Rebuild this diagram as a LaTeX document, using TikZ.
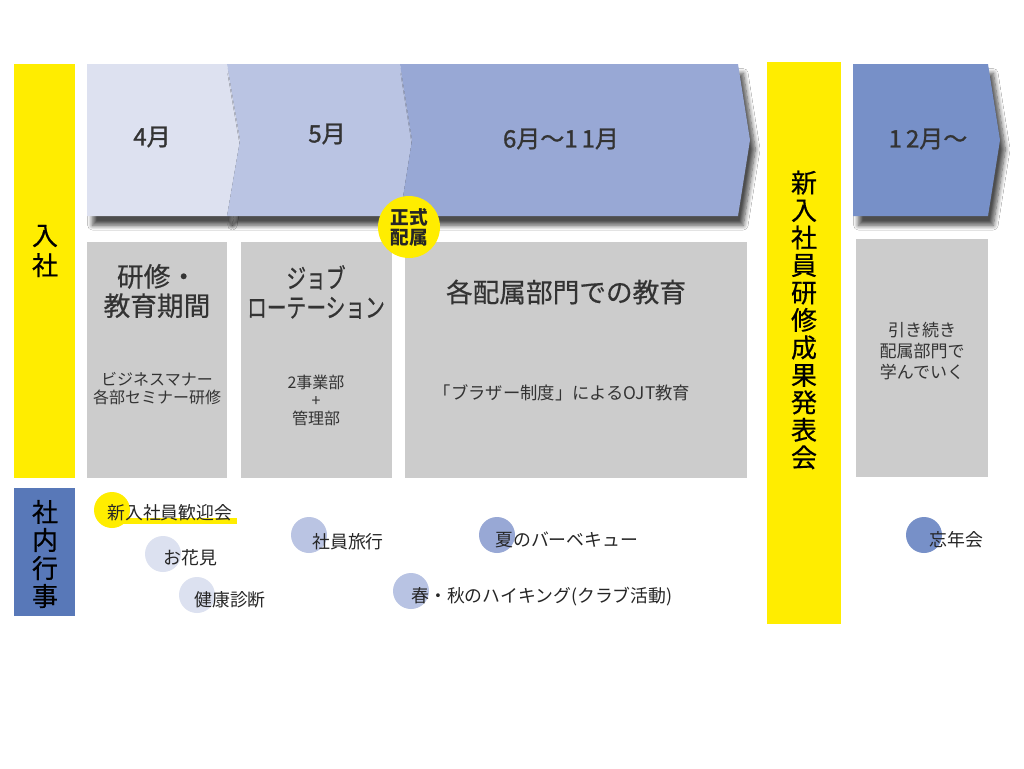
\documentclass[tikz,border=0pt]{standalone}
\usepackage{fontspec}
\usepackage{graphicx}
\setmainfont{Noto Sans CJK JP}
\newfontfamily\jpmid[FakeBold=1.2]{Noto Sans CJK JP}
\newfontfamily\jplite[FakeBold=0.5]{Noto Sans CJK JP}
\usetikzlibrary{shadows.blur}
\definecolor{ylw}{RGB}{255,237,0}
\definecolor{cA}{RGB}{221,225,240}
\definecolor{cB}{RGB}{186,196,227}
\definecolor{cC}{RGB}{152,168,213}
\definecolor{cD}{RGB}{119,144,200}
\definecolor{gbox}{RGB}{204,204,204}
\definecolor{bluebox}{RGB}{88,120,184}
\definecolor{txt}{RGB}{51,51,51}
\definecolor{evA}{RGB}{220,225,240}
\definecolor{evB}{RGB}{186,196,227}
\definecolor{evC}{RGB}{184,195,227}
\tikzset{
  chev/.style={blur shadow={shadow xshift=4pt, shadow yshift=-7pt, shadow blur radius=3.5pt, shadow blur steps=8, shadow opacity=70}},
  mon/.style={font=\jpmid\fontsize{18}{20}\selectfont, text=txt},
  ttl/.style={font=\jplite\fontsize{20}{22}\selectfont, text=txt, align=center},
  subtxt/.style={font=\fontsize{12}{13.5}\selectfont, text=txt, align=center},
  vert/.style={font=\jplite\fontsize{19.5}{21}\selectfont, text=black, align=center},
  evdot/.style={circle, minimum size=27pt, inner sep=0pt},
  evtxt/.style={font=\fontsize{13.4}{15}\selectfont, text=black!85, anchor=west, inner sep=0pt},
}
\begin{document}
\begin{tikzpicture}[x=0.75pt,y=-0.75pt]
\useasboundingbox (0,0) rectangle (1024,768);
\fill[white] (0,0) rectangle (1024,768);
% side bars
\fill[ylw] (14,64) rectangle (75,478);
\fill[bluebox] (14,488) rectangle (75,616);
\fill[ylw] (767,62) rectangle (841,624);
% chevrons
\path[fill=cA, chev] (87,64) -- (227,64) -- (240,140) -- (227,216) -- (87,216) -- cycle;
\path[fill=cB, chev] (227,64) -- (400,64) -- (412,140) -- (400,216) -- (227,216) -- (240,140) -- cycle;
\path[fill=cC, chev] (400,64) -- (738,64) -- (750,140) -- (738,216) -- (400,216) -- (412,140) -- cycle;
\path[fill=cD, chev] (853,64) -- (988,64) -- (1000,140) -- (988,216) -- (853,216) -- cycle;
\node[mon] (m4) at (152,137) {4月};
\node[mon] (m5) at (327,134) {5月};
\node[mon] (m6) at (561,139) {6月〜1\,1月};
\node[mon] (m12) at (928,139) {1\,2月〜};
% gray boxes
\fill[gbox] (87,242) rectangle (227,478);
\fill[gbox] (241,242) rectangle (392,478);
\fill[gbox] (405,242) rectangle (747,478);
\fill[gbox] (856,239) rectangle (988,477);
\node[ttl] (t1) at (157,291) {研修・\\教育期間};
\node[subtxt] (s1) at (157,389) {ビジネスマナー\\各部セミナー研修};
\node[ttl] (t2) at (316,292) {\scalebox{0.74}[1]{ジョブ}\\\scalebox{0.74}[1]{ローテーション}};
\node[subtxt] (s2) at (316,400) {2事業部\\+\\管理部};
\node[ttl] (t3) at (566,292) {各配属部門での教育};
\node[subtxt, font=\fontsize{13}{14}\selectfont] (s3) at (562,393) {「ブラザー制度」によるOJT教育};
\node[subtxt, font=\fontsize{12.75}{16}\selectfont] (s4) at (922,351) {引き続き\\配属部門で\\学んでいく};
% vertical labels
\node[vert, font=\jplite\fontsize{19.5}{22.5}\selectfont] (nyu) at (45,251) {入\\社};
\node[vert] (gyoji) at (45,554) {社\\内\\行\\事};
\node[vert, font=\jplite\fontsize{19.5}{20.6}\selectfont] (happyo) at (804,320) {新\\入\\社\\員\\研\\修\\成\\果\\発\\表\\会};
% badge
\node[circle, fill=ylw, minimum size=46.5pt, inner sep=0pt, font=\bfseries\fontsize{14}{15}\selectfont, align=center, text=black!85] (seishiki) at (409,227) {正式\\配属};
% events
\node[evdot, fill=ylw] (d1) at (112,510) {};
\fill[ylw] (113,518) rectangle (237,524);
\node[evtxt] (e1) at (107,513) {新入社員歓迎会};
\node[evdot, fill=evA] (d2) at (163,554) {};
\node[evtxt] (e2) at (163,558) {お花見};
\node[evdot, fill=evA] (d3) at (197,595) {};
\node[evtxt] (e3) at (194,600) {健康診断};
\node[evdot, fill=evB] (d4) at (309,535) {};
\node[evtxt] (e4) at (312,542) {社員旅行};
\node[evdot, fill=cC] (d5) at (497,535) {};
\node[evtxt] (e5) at (495,540) {夏のバーベキュー};
\node[evdot, fill=evC] (d6) at (411,591) {};
\node[evtxt] (e6) at (411,597) {春・秋のハイキング(クラブ活動)};
\node[evdot, fill=cD] (d7) at (924,535) {};
\node[evtxt] (e7) at (929,540) {忘年会};
\end{tikzpicture}
\end{document}
